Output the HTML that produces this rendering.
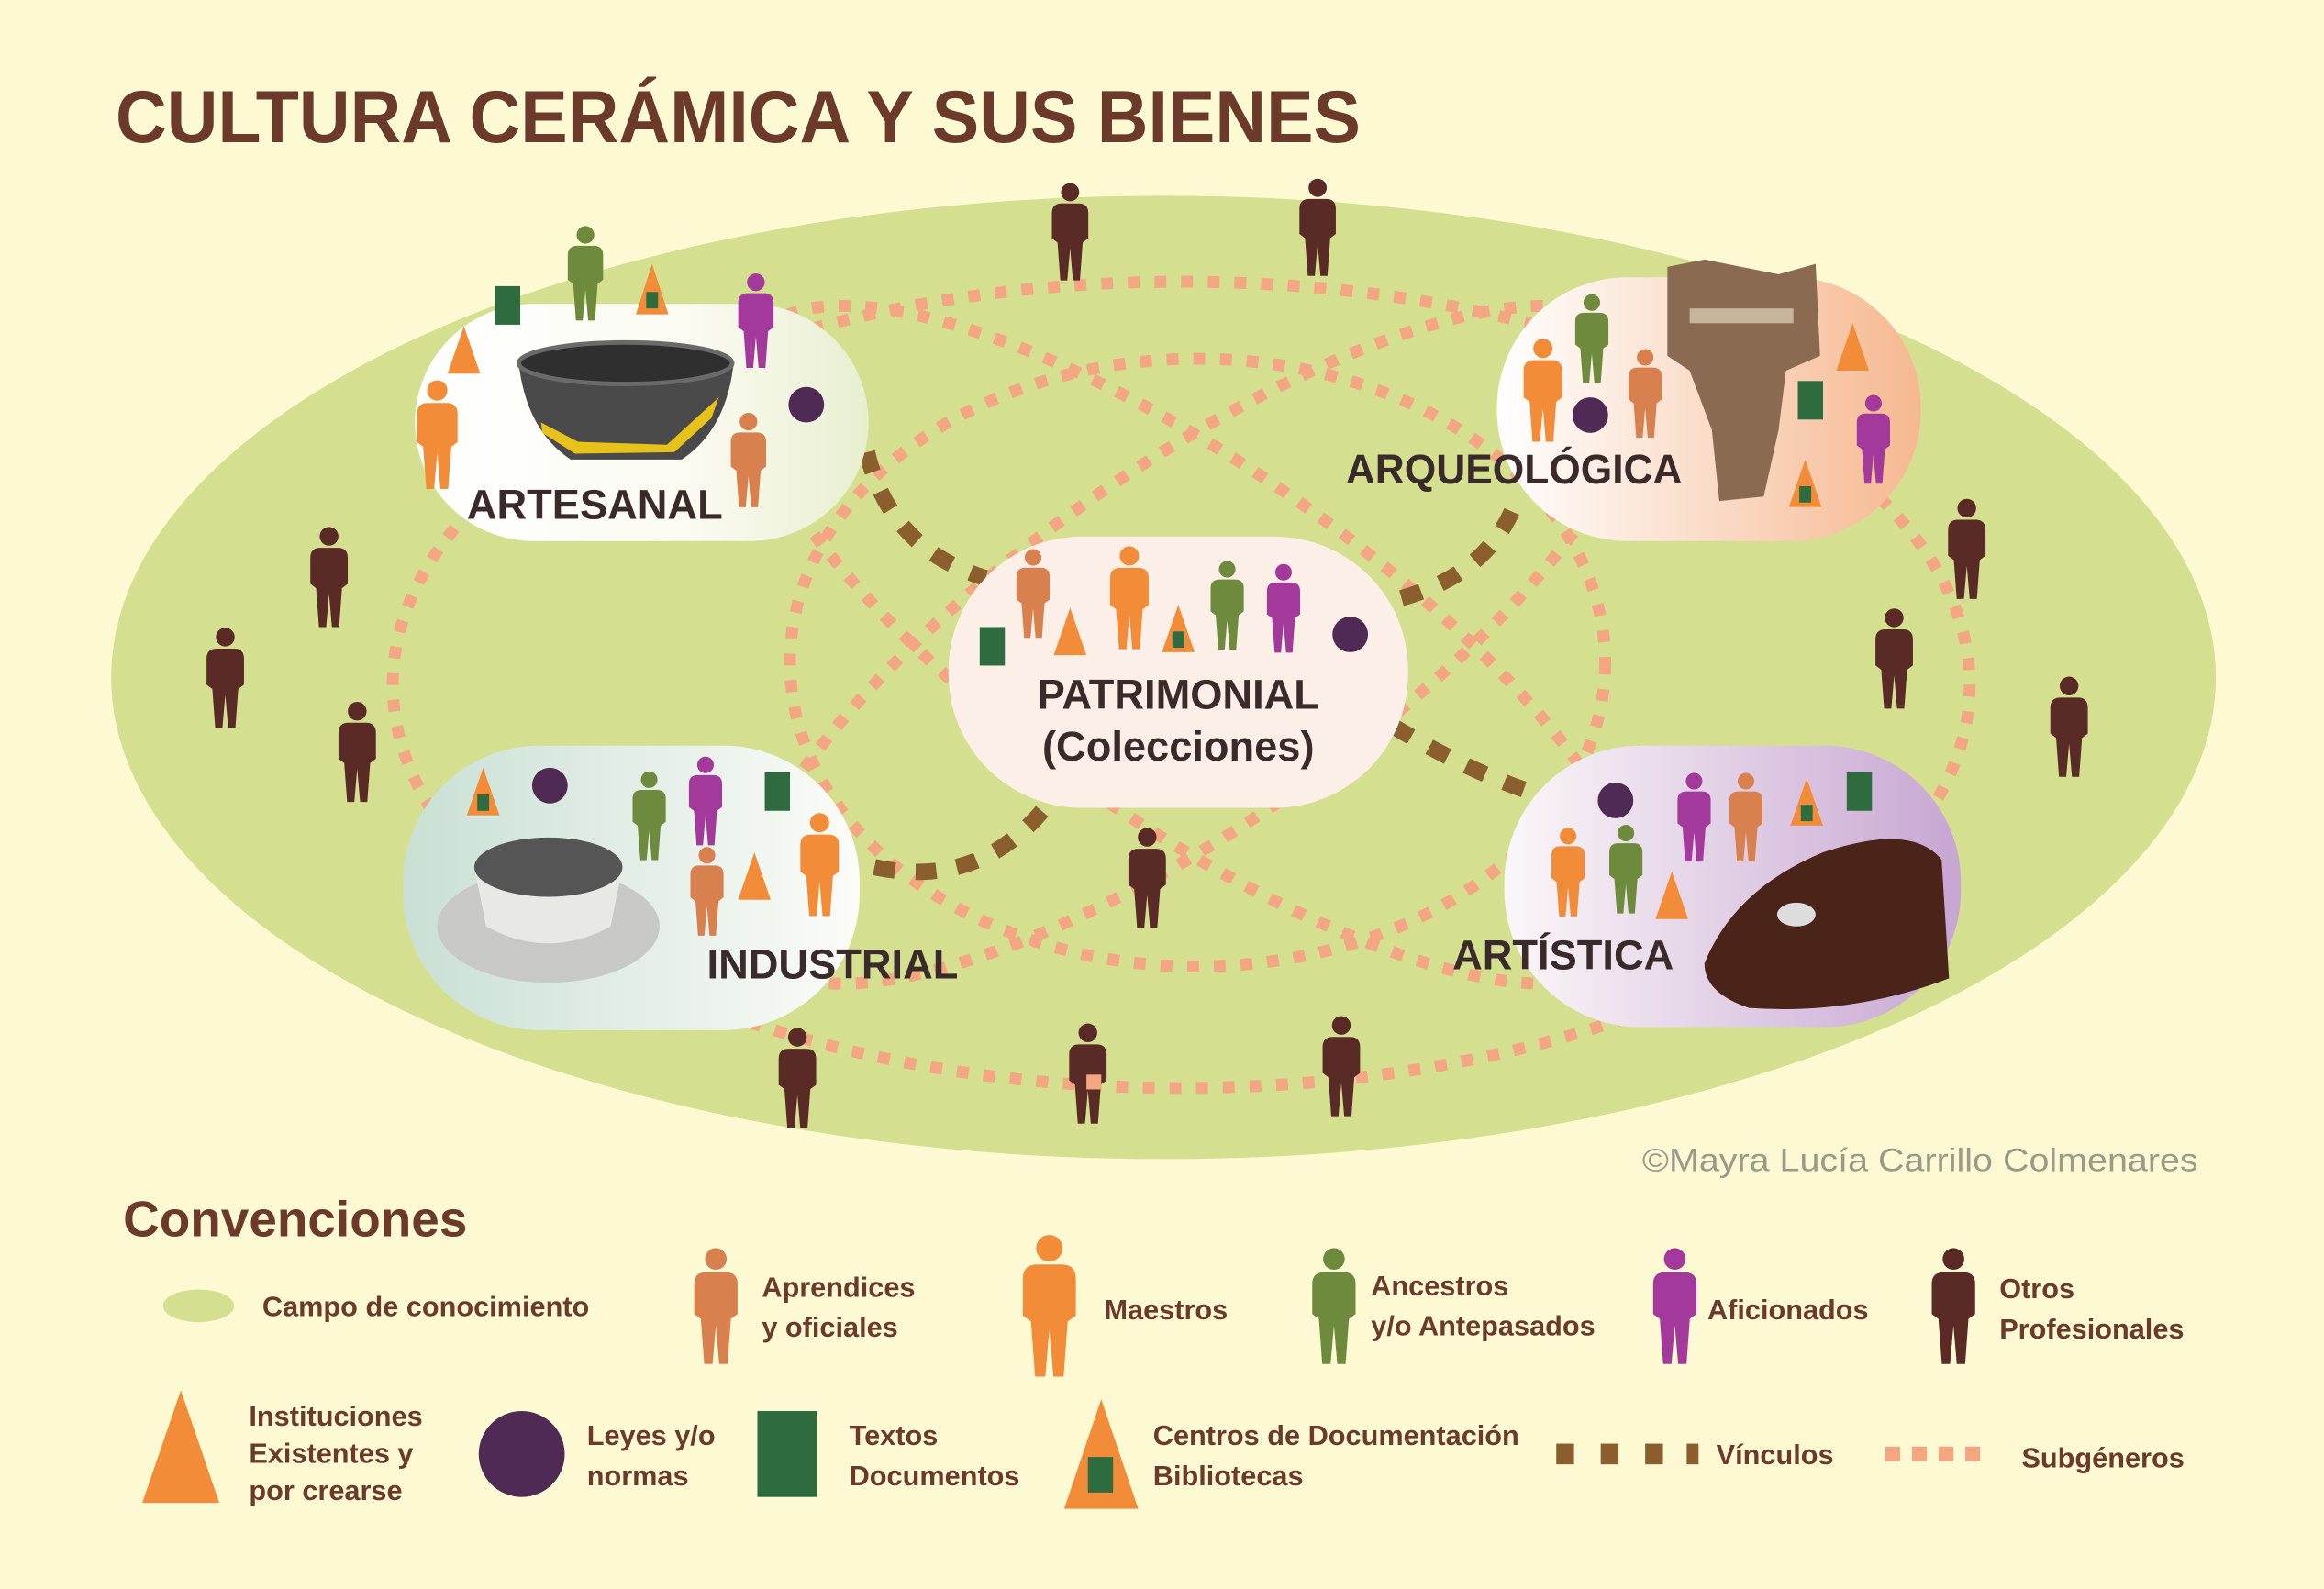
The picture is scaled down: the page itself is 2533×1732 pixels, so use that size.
<!DOCTYPE html>
<html><head><meta charset="utf-8"><style>
html,body{margin:0;padding:0;background:#fdf9d3;}
svg{display:block}
text{font-family:"Liberation Sans",sans-serif;}
</style></head><body>
<svg width="2533" height="1732" viewBox="0 0 1568 1072" xmlns="http://www.w3.org/2000/svg">
<defs>
<symbol id="p" viewBox="-16 0 32 72" overflow="visible">
<circle cx="0" cy="7" r="6.5"/>
<path d="M-13,22 Q-13,15 -6,15 L6,15 Q13,15 13,22 L13,40 L9,43 L7,70 L2,70 L0,47 L-2,70 L-7,70 L-9,43 L-13,40 Z"/>
</symbol>
<linearGradient id="gA" x1="0" x2="1"><stop offset="0" stop-color="#fff"/><stop offset="0.6" stop-color="#fbfbf2"/><stop offset="1" stop-color="#e8efd0"/></linearGradient>
<linearGradient id="gR" x1="0" x2="1"><stop offset="0" stop-color="#fff"/><stop offset="1" stop-color="#f6b890"/></linearGradient>
<linearGradient id="gI" x1="0" x2="1"><stop offset="0" stop-color="#c9e0d4"/><stop offset="1" stop-color="#fcfcf8"/></linearGradient>
<linearGradient id="gT" x1="0" x2="1"><stop offset="0" stop-color="#fbf7f8"/><stop offset="1" stop-color="#c7a6d2"/></linearGradient>
</defs>
<rect width="1568" height="1072" fill="#fdf9d3"/>
<text x="78" y="96" font-size="50" font-weight="bold" fill="#6b3a2a" textLength="840" lengthAdjust="spacingAndGlyphs">CULTURA CERÁMICA Y SUS BIENES</text>
<ellipse cx="785" cy="457" rx="710" ry="325" fill="#d4e08f"/>
<g fill="none" stroke="#f4a582" stroke-width="8" stroke-dasharray="8 10">
<ellipse cx="797" cy="462" rx="532" ry="272"/>
<ellipse cx="808" cy="447" rx="275" ry="205"/>
<ellipse cx="805" cy="435" rx="360" ry="120" transform="rotate(35 805 435)"/>
<ellipse cx="805" cy="435" rx="360" ry="120" transform="rotate(-35 805 435)"/>
</g>
<g fill="none" stroke="#8b5e2e" stroke-width="11" stroke-dasharray="14 14">
<path d="M585,305 Q600,370 665,390"/>
<path d="M1020,345 Q1000,390 940,405"/>
<path d="M940,490 Q990,520 1035,535"/>
<path d="M590,585 Q660,600 705,545"/>
</g>
<rect x="280" y="205" width="306" height="160" rx="80" fill="url(#gA)"/>
<rect x="1010" y="187" width="286" height="178" rx="88" fill="url(#gR)"/>
<rect x="640" y="362" width="310" height="183" rx="90" fill="#fcefe8"/>
<rect x="272" y="503" width="308" height="192" rx="92" fill="url(#gI)"/>
<rect x="1015" y="503" width="308" height="190" rx="92" fill="url(#gT)"/>
<path d="M350,245 Q420,225 495,245 Q490,290 460,310 L385,310 Q355,290 350,245Z" fill="#4a4a4a"/>
<ellipse cx="422" cy="245" rx="72" ry="14" fill="#2f2f2f" stroke="#6a6a6a" stroke-width="3"/>
<path d="M365,285 L390,298 L450,300 L485,268 L480,282 L455,305 L388,306 L366,292Z" fill="#e6c21a"/>
<path d="M1125,180 L1150,175 L1200,185 L1225,178 L1228,240 L1205,250 L1200,290 L1190,335 L1160,338 L1155,290 L1140,250 L1125,240Z" fill="#8a6a50"/>
<rect x="1140" y="208" width="70" height="10" fill="#c7b59a"/>
<ellipse cx="370" cy="625" rx="75" ry="38" fill="#c8c8c4"/>
<path d="M320,585 Q370,560 420,585 L412,625 Q370,648 328,625Z" fill="#e8e8e4"/>
<ellipse cx="370" cy="585" rx="50" ry="20" fill="#555"/>
<path d="M1150,650 Q1170,600 1230,575 Q1290,555 1310,580 L1315,660 Q1250,685 1180,680 Q1150,670 1150,650Z" fill="#4a2418"/>
<ellipse cx="1212" cy="617" rx="13" ry="8" fill="#ddd"/>
<g font-weight="bold" fill="#3a2a2a" font-size="28">
<text x="315" y="350">ARTESANAL</text>
<text x="908" y="326" textLength="227" lengthAdjust="spacingAndGlyphs">ARQUEOLÓGICA</text>
<text x="795" y="478" text-anchor="middle">PATRIMONIAL</text>
<text x="795" y="513" text-anchor="middle">(Colecciones)</text>
<text x="477" y="660">INDUSTRIAL</text>
<text x="980" y="654">ARTÍSTICA</text>
</g>
<g fill="#5a2b26">
<use href="#p" x="706" y="123" width="32" height="68"/>
<use href="#p" x="873" y="120" width="32" height="68"/>
<use href="#p" x="206" y="355" width="32" height="70"/>
<use href="#p" x="136" y="423" width="32" height="70"/>
<use href="#p" x="225" y="473" width="32" height="70"/>
<use href="#p" x="1311" y="336" width="32" height="70"/>
<use href="#p" x="1262" y="410" width="32" height="70"/>
<use href="#p" x="1380" y="456" width="32" height="70"/>
<use href="#p" x="758" y="558" width="32" height="70"/>
<use href="#p" x="522" y="693" width="32" height="70"/>
<use href="#p" x="718" y="690" width="32" height="70"/>
<use href="#p" x="889" y="685" width="32" height="70"/>
</g>
<rect x="733" y="725" width="10" height="10" fill="#f4a582"/>
<g fill="#6e8b3d">
<use href="#p" x="380" y="152" width="30" height="66"/>
<use href="#p" x="1059" y="198" width="30" height="62"/>
<use href="#p" x="813" y="378" width="30" height="62"/>
<use href="#p" x="423" y="520" width="30" height="62"/>
<use href="#p" x="1082" y="556" width="30" height="62"/>
</g>
<g fill="#a3399a">
<use href="#p" x="495" y="184" width="30" height="66"/>
<use href="#p" x="1249" y="266" width="30" height="62"/>
<use href="#p" x="851" y="380" width="30" height="62"/>
<use href="#p" x="461" y="510" width="30" height="62"/>
<use href="#p" x="1128" y="521" width="30" height="62"/>
</g>
<g fill="#f28c38">
<use href="#p" x="278" y="256" width="34" height="76"/>
<use href="#p" x="1024" y="228" width="34" height="72"/>
<use href="#p" x="745" y="368" width="34" height="72"/>
<use href="#p" x="536" y="548" width="34" height="72"/>
<use href="#p" x="1043" y="558" width="30" height="62"/>
</g>
<g fill="#d9804f">
<use href="#p" x="490" y="278" width="30" height="66"/>
<use href="#p" x="1095" y="235" width="30" height="62"/>
<use href="#p" x="682" y="370" width="30" height="62"/>
<use href="#p" x="462" y="571" width="30" height="62"/>
<use href="#p" x="1163" y="521" width="30" height="62"/>
</g>
<g fill="#f28c38">
<polygon points="313,220 302,252 324,252"/>
<polygon points="1250,218 1239,250 1261,250"/>
<polygon points="722,410 711,442 733,442"/>
<polygon points="509,575 498,607 520,607"/>
<polygon points="1128,588 1117,620 1139,620"/>
<polygon points="440,178 429,212 451,212"/>
<polygon points="1218,310 1207,342 1229,342"/>
<polygon points="795,408 784,440 806,440"/>
<polygon points="326,518 315,550 337,550"/>
<polygon points="1219,525 1208,557 1230,557"/>
</g>
<g fill="#2e6b3f">
<rect x="334" y="193" width="17" height="26"/>
<rect x="1213" y="257" width="17" height="26"/>
<rect x="661" y="423" width="17" height="26"/>
<rect x="516" y="521" width="17" height="26"/>
<rect x="1246" y="521" width="17" height="26"/>
<rect x="436" y="197" width="8" height="11"/>
<rect x="1214" y="328" width="8" height="11"/>
<rect x="791" y="426" width="8" height="11"/>
<rect x="322" y="536" width="8" height="11"/>
<rect x="1215" y="543" width="8" height="11"/>
</g>
<g fill="#4f2a55">
<circle cx="544" cy="273" r="12"/>
<circle cx="1073" cy="280" r="12"/>
<circle cx="911" cy="428" r="12"/>
<circle cx="371" cy="530" r="12"/>
<circle cx="1090" cy="540" r="12"/>
</g>
<text x="1108" y="790" font-size="22" fill="#9a9a88" textLength="375" lengthAdjust="spacingAndGlyphs">©Mayra Lucía Carrillo Colmenares</text>
<text x="83" y="834" font-size="34" font-weight="bold" fill="#6b3a2a">Convenciones</text>
<g font-size="19" font-weight="bold" fill="#6b3a2a">
<ellipse cx="134" cy="881" rx="24" ry="11" fill="#d4e08f"/>
<text x="177" y="888">Campo de conocimiento</text>
<use href="#p" x="465" y="838" width="36" height="88" fill="#d9804f"/>
<text x="514" y="875">Aprendices</text><text x="514" y="902">y oficiales</text>
<use href="#p" x="686" y="832" width="44" height="100" fill="#f28c38"/>
<text x="745" y="890">Maestros</text>
<use href="#p" x="882" y="838" width="36" height="88" fill="#6e8b3d"/>
<text x="925" y="874">Ancestros</text><text x="925" y="901">y/o Antepasados</text>
<use href="#p" x="1112" y="838" width="36" height="88" fill="#a3399a"/>
<text x="1152" y="890">Aficionados</text>
<use href="#p" x="1300" y="838" width="36" height="88" fill="#5a2b26"/>
<text x="1349" y="876">Otros</text><text x="1349" y="903">Profesionales</text>
<polygon points="122,938 96,1014 148,1014" fill="#f28c38"/>
<text x="168" y="962">Instituciones</text><text x="168" y="987">Existentes y</text><text x="168" y="1012">por crearse</text>
<circle cx="352" cy="981" r="29" fill="#4f2a55"/>
<text x="396" y="975">Leyes y/o</text><text x="396" y="1002">normas</text>
<rect x="511" y="952" width="40" height="58" fill="#2e6b3f"/>
<text x="573" y="975">Textos</text><text x="573" y="1002">Documentos</text>
<polygon points="743,944 718,1018 768,1018" fill="#f28c38"/>
<rect x="734" y="983" width="17" height="24" fill="#2e6b3f"/>
<text x="778" y="975">Centros de Documentación</text><text x="778" y="1002">Bibliotecas</text>
<g fill="#8b5e2e"><rect x="1050" y="974" width="12" height="14"/><rect x="1080" y="974" width="12" height="14"/><rect x="1110" y="974" width="12" height="14"/><rect x="1138" y="974" width="8" height="14"/></g>
<text x="1158" y="988">Vínculos</text>
<g fill="#f4a582"><rect x="1272" y="976" width="10" height="10"/><rect x="1290" y="976" width="10" height="10"/><rect x="1308" y="976" width="10" height="10"/><rect x="1326" y="976" width="10" height="10"/></g>
<text x="1364" y="990">Subgéneros</text>
</g>
</svg>
</body></html>
